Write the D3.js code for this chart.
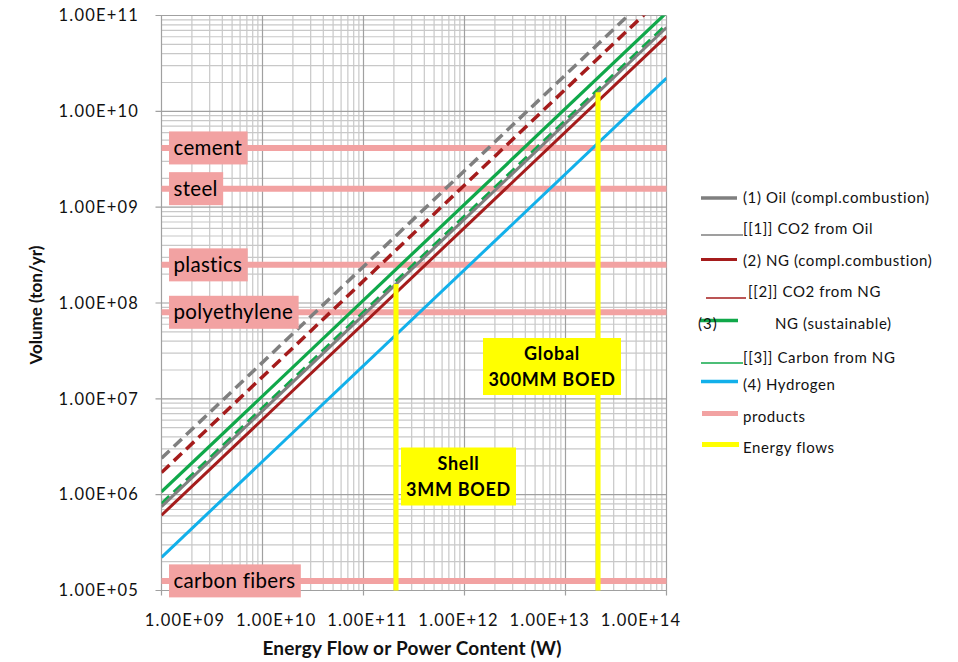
<!DOCTYPE html>
<html>
<head>
<meta charset="utf-8">
<script src="https://cdn.jsdelivr.net/npm/d3@7"></script>
<style>
  html, body { margin: 0; padding: 0; background: #fff; }
  svg { display: block; font-family: Lato, "Open Sans", sans-serif; }
</style>
</head>
<body>
<svg id="chart" width="958" height="662"></svg>
<script>
// Power range covered by every series (W)
const powerW = [1e9, 1e14];

// Mass flow (ton/yr) at each power in powerW
const oilFuel       = [7.5e5, 7.5e10];
const oilCO2        = [2.4e6, 2.4e11];
const ngFuel        = [6.1e5, 6.1e10];
const ngCO2         = [1.7e6, 1.7e11];
const ngSustainable = [1.07e6, 1.07e11];
const ngCarbon      = [8.0e5, 8.0e10];
const hydrogen      = [2.22e5, 2.22e10];

// Annual production of reference products (ton/yr)
const productNames   = ["cement", "steel", "plastics", "polyethylene", "carbon fibers"];
const productVolumes = [4.15e9, 1.56e9, 2.5e8, 8.0e7, 1.26e5];

// Energy flows (W) and the oil mass they correspond to (ton/yr)
const flowLabels  = [["Shell", "3MM BOED"], ["Global", "300MM BOED"]];
const flowPowers  = [2.1e11, 2.1e13];
const flowVolumes = [1.58e8, 1.58e10];

// Axis tick labels
const xTickLabels = ["1.00E+09", "1.00E+10", "1.00E+11", "1.00E+12", "1.00E+13", "1.00E+14"];
const yTickLabels = ["1.00E+05", "1.00E+06", "1.00E+07", "1.00E+08", "1.00E+09", "1.00E+10", "1.00E+11"];

const COLORS = {
  grey: "#7f7f7f",
  red: "#a51c1c",
  green: "#10a84a",
  blue: "#12b0ea",
  pink: "#f2a2a2",
  yellow: "#ffff00"
};

const series = [
  { name: "[[1]] CO2 from Oil", values: oilCO2, color: COLORS.grey, dash: true, width: 3.5 },
  { name: "[[2]] CO2 from NG", values: ngCO2, color: COLORS.red, dash: true, width: 3.5 },
  { name: "(3) NG (sustainable)", values: ngSustainable, color: COLORS.green, dash: false, width: 3.2 },
  { name: "[[3]] Carbon from NG", values: ngCarbon, color: COLORS.green, dash: true, width: 3.5 },
  { name: "(1) Oil", values: oilFuel, color: COLORS.grey, dash: false, width: 3 },
  { name: "(2) NG", values: ngFuel, color: COLORS.red, dash: false, width: 3 },
  { name: "(4) Hydrogen", values: hydrogen, color: COLORS.blue, dash: false, width: 3 }
];

const svg = d3.select("#chart");
const plot = { left: 161.5, right: 666.5, top: 15.5, bottom: 590.5 };

const x = d3.scaleLog().domain([1e9, 1e14]).range([plot.left, plot.right]);
const y = d3.scaleLog().domain([1e5, 1e11]).range([plot.bottom, plot.top]);

const isMajor = v => Math.abs(Math.log10(v) - Math.round(Math.log10(v))) < 1e-9;

svg.append("defs").append("clipPath").attr("id", "plot-clip")
  .append("rect")
  .attr("x", plot.left).attr("y", plot.top)
  .attr("width", plot.right - plot.left).attr("height", plot.bottom - plot.top);

// Grid: minor lines first, decades on top
const grid = svg.append("g");
const xt = x.ticks();
const yt = y.ticks();
grid.selectAll(".vminor").data(xt.filter(v => !isMajor(v))).join("line")
  .attr("x1", d => x(d)).attr("x2", d => x(d))
  .attr("y1", plot.top).attr("y2", plot.bottom)
  .attr("stroke", "#c8c8c8").attr("stroke-width", 1.2);
grid.selectAll(".hminor").data(yt.filter(v => !isMajor(v))).join("line")
  .attr("y1", d => y(d)).attr("y2", d => y(d))
  .attr("x1", plot.left).attr("x2", plot.right)
  .attr("stroke", "#c8c8c8").attr("stroke-width", 1.2);
grid.selectAll(".vmajor").data(xt.filter(isMajor)).join("line")
  .attr("x1", d => x(d)).attr("x2", d => x(d))
  .attr("y1", plot.top).attr("y2", plot.bottom + 5)
  .attr("stroke", "#a0a0a0").attr("stroke-width", 1.2);
grid.selectAll(".hmajor").data(yt.filter(isMajor)).join("line")
  .attr("y1", d => y(d)).attr("y2", d => y(d))
  .attr("x1", plot.left - 6).attr("x2", plot.right)
  .attr("stroke", "#a0a0a0").attr("stroke-width", 1.2);

// Product reference lines
const productG = svg.append("g");
productG.selectAll("line").data(productVolumes).join("line")
  .attr("x1", plot.left).attr("x2", plot.right)
  .attr("y1", d => y(d)).attr("y2", d => y(d))
  .attr("stroke", COLORS.pink).attr("stroke-width", 6);

// Mass-flow series
const line = d3.line().x(d => x(d[0])).y(d => y(d[1]));
const seriesG = svg.append("g").attr("clip-path", "url(#plot-clip)");
series.forEach(s => {
  seriesG.append("path")
    .datum(powerW.map((p, i) => [p, s.values[i]]))
    .attr("d", line)
    .attr("fill", "none")
    .attr("stroke", s.color)
    .attr("stroke-width", s.width)
    .attr("stroke-dasharray", s.dash ? "11,6" : null);
});

// Energy flow markers
svg.append("g").selectAll("line").data(flowPowers).join("line")
  .attr("x1", d => x(d)).attr("x2", d => x(d))
  .attr("y1", y(1e5)).attr("y2", (d, i) => y(flowVolumes[i]))
  .attr("stroke", COLORS.yellow).attr("stroke-width", 5);

// Product labels
const labelG = svg.append("g");
productNames.forEach((name, i) => {
  const cy = y(productVolumes[i]);
  const t = labelG.append("text")
    .attr("x", plot.left + 12).attr("y", cy)
    .attr("dy", "0.35em")
    .attr("font-size", 20.5)
    .attr("letter-spacing", 0.3)
    .attr("fill", "#000")
    .text(name);
  const w = t.node().getComputedTextLength();
  labelG.insert("rect", "text")
    .attr("x", plot.left + 7.5).attr("y", cy - 16.5)
    .attr("width", w + 10).attr("height", 33)
    .attr("fill", COLORS.pink);
});

// Energy flow labels
const flowBoxes = [
  { cx: 458.5, top: 447.5, w: 115, h: 58 },
  { cx: 552, top: 338, w: 138, h: 57 }
];
flowLabels.forEach((lines, i) => {
  const b = flowBoxes[i];
  labelG.append("rect")
    .attr("x", b.cx - b.w / 2).attr("y", b.top)
    .attr("width", b.w).attr("height", b.h)
    .attr("fill", COLORS.yellow);
  lines.forEach((txt, j) => {
    labelG.append("text")
      .attr("x", b.cx).attr("y", b.top + 16 + j * 26)
      .attr("dy", "0.35em")
      .attr("text-anchor", "middle")
      .attr("font-size", 18).attr("font-weight", 700)
      .attr("letter-spacing", 0.7)
      .attr("fill", "#000")
      .text(txt);
  });
});

// Y tick labels
svg.append("g").selectAll("text").data(yt.filter(isMajor)).join("text")
  .attr("x", 139).attr("y", d => y(d))
  .attr("dy", "0.35em")
  .attr("text-anchor", "end")
  .attr("font-size", 16.5).attr("letter-spacing", 1.2)
  .attr("fill", "#111")
  .text((d, i) => yTickLabels[i]);

// X tick labels spread evenly under the axis
const xLab = d3.scalePoint().domain(xTickLabels).range([185, 641]);
svg.append("g").selectAll("text").data(xTickLabels).join("text")
  .attr("x", d => xLab(d)).attr("y", 620)
  .attr("dy", "0.35em")
  .attr("text-anchor", "middle")
  .attr("font-size", 16.5).attr("letter-spacing", 1.2)
  .attr("fill", "#111")
  .text(d => d);

// Axis titles
svg.append("text")
  .attr("x", 412).attr("y", 648).attr("dy", "0.35em")
  .attr("text-anchor", "middle")
  .attr("font-size", 19).attr("font-weight", 700)
  .attr("letter-spacing", 0.2)
  .attr("fill", "#111")
  .text("Energy Flow or Power Content (W)");
svg.append("text")
  .attr("transform", "translate(36,305) rotate(-90)")
  .attr("dy", "0.35em")
  .attr("text-anchor", "middle")
  .attr("font-size", 17).attr("font-weight", 700)
  .attr("fill", "#111")
  .text("Volume (ton/yr)");

// Legend
const legendItems = [
  { label: "(1) Oil  (compl.combustion)", color: COLORS.grey, w: 3.5, x1: 701, x2: 737, ly: 198, ty: 198, tx: 743 },
  { label: "[[1]] CO2  from Oil", color: COLORS.grey, w: 1.5, x1: 701, x2: 743, ly: 235, ty: 229, tx: 743 },
  { label: "(2) NG  (compl.combustion)", color: COLORS.red, w: 3, x1: 701, x2: 737, ly: 259.5, ty: 261, tx: 743 },
  { label: "[[2]] CO2  from NG", color: COLORS.red, w: 1.5, x1: 706, x2: 746, ly: 298, ty: 292, tx: 748 },
  { label: "NG (sustainable)", color: COLORS.green, w: 3.5, x1: 700, x2: 738, ly: 320.5, ty: 324, tx: 775, prefix: "(3)" },
  { label: "[[3]] Carbon from  NG", color: COLORS.green, w: 1.5, x1: 701, x2: 743, ly: 363, ty: 358, tx: 743 },
  { label: "(4) Hydrogen", color: COLORS.blue, w: 3.5, x1: 701, x2: 738, ly: 381.5, ty: 385, tx: 743 },
  { label: "products", color: COLORS.pink, w: 5, x1: 702, x2: 738, ly: 413.5, ty: 417, tx: 743 },
  { label: "Energy flows", color: COLORS.yellow, w: 5, x1: 702, x2: 739, ly: 444.5, ty: 448, tx: 743 }
];
const legend = svg.append("g");
legendItems.forEach(it => {
  legend.append("line")
    .attr("x1", it.x1).attr("x2", it.x2)
    .attr("y1", it.ly).attr("y2", it.ly)
    .attr("stroke", it.color).attr("stroke-width", it.w);
  if (it.prefix) {
    legend.append("text")
      .attr("x", 698).attr("y", it.ty).attr("dy", "0.35em")
      .attr("font-size", 15).attr("letter-spacing", 1).attr("fill", "#111")
      .text(it.prefix);
  }
  legend.append("text")
    .attr("x", it.tx).attr("y", it.ty).attr("dy", "0.35em")
    .attr("font-size", 15).attr("letter-spacing", 0.6).attr("fill", "#111")
    .text(it.label);
});
</script>
</body>
</html>
